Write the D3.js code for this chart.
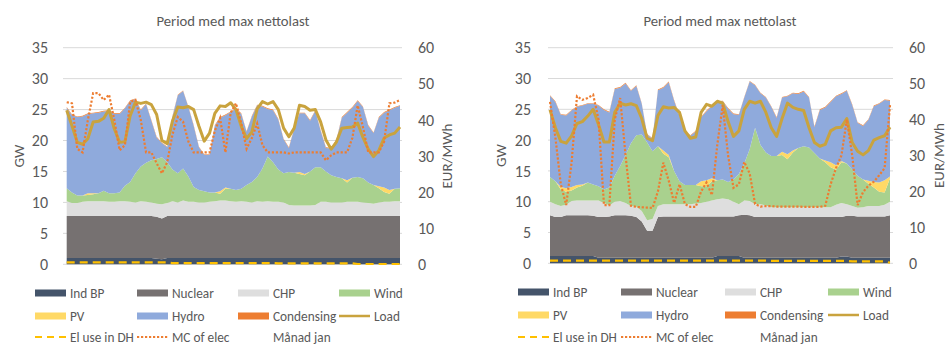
<!DOCTYPE html>
<html>
<head>
<meta charset="utf-8">
<script src="https://cdn.jsdelivr.net/npm/d3@7"></script>
<style>
  html, body { margin: 0; padding: 0; background: #fff; }
  svg { display: block; font-family: Carlito, Calibri, Lato, "Open Sans", sans-serif; }
</style>
</head>
<body>
<svg id="chart" width="948" height="345"></svg>
<script>
// ---- Axis ticks ----
const gwTicks  = [0, 5, 10, 15, 20, 25, 30, 35];
const eurTicks = [0, 10, 20, 30, 40, 50, 60];
const chartTitle = "Period med max nettolast";

// ---- Panel 1: generation (GW), load (GW), price (EUR/MWh) per 3-hour step ----
const p1IndBP = [1.0,1.0,1.0,1.0,1.0,1.0,1.0,1.0,1.0,1.0, 1.0,1.0,1.0,1.0,1.0,1.0,1.0,0.9,0.8,1.0,
  1.0,1.0,1.0,1.0,1.0,1.0,1.0,1.0,1.0,1.0, 1.0,1.0,1.0,1.0,1.0,1.0,1.0,1.0,1.0,1.0,
  1.0,1.0,1.0,1.0,1.0,1.0,1.0,1.0,1.0,1.0, 1.0,1.0,1.0,1.0,1.0,1.0,1.0,1.0,1.0,1.0, 1.0,1.0,1.0,1.0];
const p1Nuclear = [6.8,6.8,6.8,6.8,6.8,6.8,6.8,6.8,6.8,6.8, 6.8,6.8,6.8,6.8,6.8,6.8,6.8,6.8,6.6,6.8,
  6.8,6.8,6.8,6.8,6.8,6.8,6.8,6.8,6.8,6.8, 6.8,6.8,6.8,6.8,6.8,6.8,6.8,6.8,6.8,6.8,
  6.8,6.8,6.8,6.8,6.8,6.8,6.8,6.8,6.8,6.8, 6.8,6.8,6.8,6.8,6.8,6.8,6.8,6.8,6.8,6.8, 6.8,6.8,6.8,6.8];
const p1CHP = [2.4,2.1,2.1,2.3,2.4,2.4,2.4,2.4,2.3,2.3, 2.4,2.4,2.3,2.2,2.4,2.3,2.2,2.1,2.3,2.1,
  2.4,2.2,2.5,2.3,2.3,2.2,2.2,2.3,2.4,2.5, 2.5,2.4,2.3,2.4,2.3,2.2,2.4,2.3,2.4,2.3,
  2.3,2.2,1.8,1.7,1.7,1.7,1.7,1.8,2.3,2.3, 2.2,2.2,2.2,2.3,2.3,2.3,2.2,2.1,2.0,2.2, 2.3,2.3,2.4,2.4];
const p1Wind = [2.1,1.7,1.2,1.0,1.0,1.1,1.3,1.7,1.4,1.4, 1.4,2.5,3.2,4.7,5.6,6.3,6.8,7.2,7.6,6.6,
  5.1,4.7,5.2,4.1,2.4,2.0,1.8,1.5,1.4,1.1, 1.9,2.0,1.9,2.0,2.7,3.3,3.9,5.4,7.2,6.4,
  5.2,4.7,5.3,5.3,5.1,4.9,5.5,6.1,5.6,4.9, 4.4,4.1,3.9,3.1,3.9,4.0,3.9,3.3,3.0,2.3, 1.6,1.3,2.0,2.1];
const p1PV = [0,0,0,0,0.3,0.2,0,0,0,0, 0,0,0,0,0,0,0,0,0,0,
  0,0,0,0,0,0,0,0,0,0.4, 0.2,0,0,0,0,0,0,0,0,0,
  0,0,0,0,0.3,0.2,0,0,0,0, 0,0,0,0.4,0,0,0,0,0,0.3, 0.7,0.6,0,0];
const p1Hydro = [13.0,12.5,12.7,12.8,12.8,12.9,13.0,12.8,13.3,12.8, 12.7,12.5,13.1,12.0,9.1,9.5,6.4,3.5,2.3,2.4,
  8.6,12.6,12.5,11.2,9.9,6.9,5.9,6.1,10.8,11.9, 11.7,12.4,13.1,12.1,8.6,10.6,11.6,10.0,7.7,8.4,
  8.1,5.5,3.9,7.1,9.5,9.8,8.2,9.1,5.9,3.8, 4.3,6.0,9.8,10.9,11.3,12.3,11.5,9.2,8.4,11.1, 12.1,12.9,13.1,13.3];
const p1Condensing = [0.1,0.1,0.1,0.1,0.1,0.1,0.1,0.1,0.1,0.1, 0.1,0.1,0.1,0.1,0.1,0.1,0.1,0.1,0.1,0.1,
  0.1,0.1,0.1,0.1,0.1,0.1,0.1,0.1,0.1,0.1, 0.1,0.1,0.1,0.1,0.1,0.1,0.1,0.1,0.1,0.1,
  0.1,0.1,0.1,0.1,0.1,0.1,0.1,0.1,0.1,0.1, 0.1,0.1,0.1,0.1,0.1,0.1,0.1,0.1,0.1,0.1, 0.1,0.1,0.1,0.1];
const p1Load = [24.9,22.4,19.7,19.4,20.3,23.0,23.1,23.6,25.0,21.9, 19.7,19.8,24.0,26.2,26.0,26.2,25.8,24.2,20.0,19.5,
  23.2,25.4,25.3,25.5,25.0,22.3,19.9,21.2,24.4,25.6, 25.5,26.1,25.0,22.3,20.3,21.4,25.1,26.3,25.9,26.3,
  25.0,22.0,20.6,22.0,25.7,25.5,24.9,25.0,23.0,20.1, 18.6,19.8,22.0,22.1,22.2,22.8,20.5,18.6,17.4,18.4, 20.4,20.9,21.2,22.2];
const p1ElDH = [0.3,0.3,0.3,0.3,0.3,0.3,0.3,0.3,0.3,0.3, 0.3,0.3,0.3,0.3,0.3,0.3,0.3,0.3,0.3,0.3,
  0.2,0.2,0.2,0.2,0.2,0.2,0.2,0.2,0.2,0.2, 0.2,0.2,0.2,0.2,0.2,0.2,0.2,0.2,0.2,0.2,
  0.15,0.15,0.15,0.15,0.15,0.15,0.15,0.15,0.15,0.15, 0.15,0.15,0.15,0.15,0.15,0.05,0.05,0.05,0.05,0.05, 0.05,0.05,0.05,0.05];
const p1MC = [44.9,44.6,32.0,31.0,40.0,47.4,47.4,45.5,47.0,40.0, 31.6,33.0,45.0,45.5,40.0,31.0,31.0,28.0,25.2,28.3,
  36.0,40.8,39.5,34.0,31.0,31.0,31.0,31.0,37.0,40.5, 31.0,42.0,44.6,39.0,32.0,35.0,39.0,33.0,31.0,31.0,
  31.0,31.0,30.7,31.0,31.0,31.0,31.0,31.0,31.0,28.8, 30.2,31.0,31.0,31.0,35.0,44.0,38.0,31.0,31.0,31.0, 34.0,44.6,44.8,45.5];

// ---- Panel 2 ----
const p2IndBP = [1.2,1.2,1.2,1.2,1.2,1.2,1.2,1.2,1.2,0.9, 0.9,0.9,0.9,0.9,0.9,0.9,0.9,0.9,0.9,0.9,
  0.9,0.9,0.9,0.9,0.9,0.9,0.9,0.9,0.9,0.9, 0.9,1.2,1.2,1.2,1.2,1.2,0.9,0.9,0.9,0.9,
  0.9,0.9,0.9,0.9,0.9,0.9,0.9,0.9,0.9,0.9, 0.9,0.9,0.9,0.9,1.1,1.1,0.9,0.9,0.9,0.9, 0.9,0.9,0.9,0.9];
const p2Nuclear = [6.6,6.3,6.3,6.6,6.6,6.6,6.6,6.6,6.5,6.6, 6.6,6.7,6.9,6.9,6.9,6.8,6.6,5.9,4.4,4.4,
  6.6,6.7,6.7,6.7,6.7,6.7,6.7,6.7,6.7,6.7, 6.7,6.4,6.4,6.4,6.4,6.6,7.0,6.9,6.6,6.6,
  6.6,6.6,6.6,6.6,6.6,6.6,6.6,6.6,6.6,6.6, 6.6,6.6,6.6,6.6,6.4,6.6,6.8,6.7,6.7,6.7, 6.7,6.7,6.7,6.9];
const p2CHP = [2.2,2.1,1.8,1.7,2.3,2.4,2.4,2.4,2.5,2.7, 2.3,1.8,2.2,2.3,2.0,1.6,1.7,1.7,1.7,1.9,
  1.8,2.0,2.0,2.0,2.0,2.0,2.0,2.1,2.2,2.4, 2.6,2.8,2.9,2.8,2.4,1.8,2.3,2.3,2.1,2.1,
  1.9,1.6,1.6,1.6,1.6,1.6,1.6,1.6,1.6,1.6, 1.6,1.6,1.6,2.0,2.3,1.9,1.6,1.4,1.5,1.7, 1.7,1.7,1.9,2.2];
const p2Wind = [4.0,3.7,2.7,2.1,1.7,2.1,2.4,2.9,2.6,2.3, 2.2,2.9,4.2,5.7,7.8,10.2,11.6,12.4,12.6,11.0,
  9.7,8.2,7.6,5.4,3.7,3.1,3.1,3.0,2.7,2.5, 3.1,3.1,3.1,2.8,3.6,4.9,6.0,8.4,12.4,9.6,
  8.6,8.3,8.3,8.5,7.8,8.9,9.6,9.9,9.7,8.8, 7.9,7.3,6.5,5.7,6.6,6.6,5.9,5.2,4.5,3.6, 3.0,2.3,2.0,3.8];
const p2PV = [0,0,0.4,0.6,0.6,0.4,0.2,0,0,0, 0,0,0,0,0,0,0,0,0,0,
  0,0.5,0.4,0,0,0,0,0,0.8,1.0, 0.5,0,0,0,0,0,0,0,0,0,
  0,0,0,0.5,0.8,0.3,0,0,0,0, 0,0.3,0.8,0.7,0.2,0,0,0,0,0.5, 0.9,1.5,2.0,0.3];
const p2Hydro = [13.2,12.9,11.7,11.8,12.4,12.7,12.8,12.8,13.1,13.1, 12.9,12.2,14.1,12.7,11.6,8.5,8.0,5.0,1.3,2.0,
  9.1,10.2,11.8,11.4,10.6,8.7,8.0,8.7,10.4,11.2, 11.7,12.7,12.7,11.9,10.6,9.6,10.7,11.0,6.9,8.4,
  8.9,8.0,6.2,8.8,9.4,9.3,8.8,8.9,8.1,4.2, 7.9,8.6,9.8,11.2,10.9,11.8,10.5,8.6,8.7,9.9, 12.3,12.8,13.0,12.3];
const p2Condensing = [0.1,0.1,0.1,0.1,0.1,0.1,0.1,0.1,0.1,0.1, 0.1,0.1,0.1,0.1,0.1,0.1,0.1,0.1,0.1,0.1,
  0.1,0.1,0.1,0.1,0.1,0.1,0.1,0.1,0.1,0.1, 0.1,0.1,0.1,0.1,0.1,0.1,0.1,0.1,0.1,0.1,
  0.1,0.1,0.1,0.1,0.1,0.1,0.1,0.1,0.1,0.1, 0.1,0.1,0.1,0.1,0.1,0.1,0.1,0.1,0.1,0.1, 0.1,0.1,0.1,0.1];
const p2Load = [24.9,22.0,19.8,19.5,20.7,22.7,23.0,23.9,25.0,22.5, 19.7,19.7,24.5,26.0,25.7,25.9,25.6,23.5,20.3,19.9,
  24.0,25.4,25.2,25.3,24.5,21.5,20.3,20.5,24.5,25.8, 25.5,26.3,26.0,23.0,20.6,21.5,25.0,26.3,26.0,26.3,
  24.5,22.0,20.6,23.5,26.0,25.3,25.0,24.8,22.0,19.6, 19.0,19.3,21.5,22.0,22.1,23.5,19.6,18.2,17.6,18.3, 20.0,20.4,20.7,22.1];
const p2ElDH = [0.45,0.45,0.45,0.45,0.45,0.45,0.45,0.45,0.45,0.45, 0.45,0.45,0.45,0.45,0.45,0.45,0.45,0.45,0.45,0.45,
  0.45,0.45,0.45,0.45,0.45,0.45,0.45,0.45,0.45,0.45, 0.45,0.45,0.45,0.45,0.45,0.45,0.45,0.45,0.45,0.45,
  0.45,0.4,0.4,0.4,0.4,0.4,0.4,0.4,0.4,0.4, 0.4,0.4,0.4,0.4,0.4,0.4,0.3,0.3,0.3,0.3, 0.3,0.3,0.3,0.1];
const p2MC = [44.9,35.0,22.0,16.2,28.0,46.5,45.5,46.0,46.9,40.0, 16.2,16.2,40.0,46.0,30.0,16.0,15.7,15.6,15.5,15.4,
  20.0,28.0,23.0,16.8,22.0,16.5,15.7,15.7,20.0,22.5, 19.0,33.0,44.0,30.0,21.0,22.0,28.2,25.0,16.5,15.8,
  15.9,15.9,15.8,15.8,15.8,15.8,15.8,15.7,15.7,15.7, 15.7,16.0,22.0,26.5,30.0,40.0,30.0,16.2,19.8,21.6, 22.7,24.5,26.5,44.0];

// ---- Series styling ----
const areaSeries = [
  { key: "indBP",      label: "Ind BP",     color: "#44546a" },
  { key: "nuclear",    label: "Nuclear",    color: "#767171" },
  { key: "chp",        label: "CHP",        color: "#dedede" },
  { key: "wind",       label: "Wind",       color: "#a9d18e" },
  { key: "pv",         label: "PV",         color: "#ffd966" },
  { key: "hydro",      label: "Hydro",      color: "#8faadc" },
  { key: "condensing", label: "Condensing", color: "#ed7d31" }
];
const loadColor = "#c9a33e";
const elDHColor = "#ffc000";
const mcColor   = "#ed7d31";
const textColor = "#595959";
const gridColor = "#d9d9d9";

const panels = [
  { data: { indBP: p1IndBP, nuclear: p1Nuclear, chp: p1CHP, wind: p1Wind, pv: p1PV, hydro: p1Hydro, condensing: p1Condensing },
    load: p1Load, elDH: p1ElDH, mc: p1MC,
    x0: 66.7, x1: 400, yTop: 47.7, yBot: 264.3, gx0: 63, gx1: 402,
    leftLabel: 48, rightLabel: 418, gwX: 19, eurX: 447, titleX: 233,
    legendX: [35, 137, 238, 339], legendY: [293, 316, 337] },
  { data: { indBP: p2IndBP, nuclear: p2Nuclear, chp: p2CHP, wind: p2Wind, pv: p2PV, hydro: p2Hydro, condensing: p2Condensing },
    load: p2Load, elDH: p2ElDH, mc: p2MC,
    x0: 550, x1: 890, yTop: 47.7, yBot: 263.3, gx0: 548, gx1: 893,
    leftLabel: 531, rightLabel: 909, gwX: 501, eurX: 939, titleX: 720,
    legendX: [518, 621, 725, 828], legendY: [292, 315, 337] }
];

const svg = d3.select("#chart");

function drawPanel(p) {
  const g = svg.append("g");
  const n = p.load.length;
  const x = d3.scaleLinear().domain([0, n - 1]).range([p.x0, p.x1]);
  const y = d3.scaleLinear().domain([0, 35]).range([p.yBot, p.yTop]);
  const y2 = d3.scaleLinear().domain([0, 60]).range([p.yBot, p.yTop]);

  // gridlines
  g.append("g").selectAll("line").data(gwTicks).join("line")
    .attr("x1", p.gx0).attr("x2", p.gx1)
    .attr("y1", d => y(d)).attr("y2", d => y(d))
    .attr("stroke", gridColor).attr("stroke-width", 1);

  // stacked generation areas
  const rows = d3.range(n).map(i => {
    const r = {};
    areaSeries.forEach(s => { r[s.key] = p.data[s.key][i]; });
    return r;
  });
  const stacked = d3.stack().keys(areaSeries.map(s => s.key))(rows);
  const area = d3.area()
    .x((d, i) => x(i))
    .y0(d => y(d[0]))
    .y1(d => y(d[1]));
  g.append("g").selectAll("path").data(stacked).join("path")
    .attr("d", area)
    .attr("fill", (d, i) => areaSeries[i].color);

  // load (GW)
  const lineGW = d3.line().x((d, i) => x(i)).y(d => y(d));
  g.append("path").attr("d", lineGW(p.load))
    .attr("fill", "none").attr("stroke", loadColor)
    .attr("stroke-width", 3).attr("stroke-linejoin", "round");

  // electricity use in district heating (GW)
  g.append("path").attr("d", lineGW(p.elDH))
    .attr("fill", "none").attr("stroke", elDHColor)
    .attr("stroke-width", 2.2).attr("stroke-dasharray", "8 5");

  // marginal cost of electricity (EUR/MWh)
  const lineEUR = d3.line().x((d, i) => x(i)).y(d => y2(d));
  g.append("path").attr("d", lineEUR(p.mc))
    .attr("fill", "none").attr("stroke", mcColor)
    .attr("stroke-width", 2.2).attr("stroke-dasharray", "2.2 1.8");

  // axes
  const axL = g.append("g").attr("transform", `translate(${p.leftLabel},0)`)
    .call(d3.axisLeft(y).tickValues(gwTicks).tickSize(0).tickPadding(0));
  const axR = g.append("g").attr("transform", `translate(${p.rightLabel},0)`)
    .call(d3.axisRight(y2).tickValues(eurTicks).tickSize(0).tickPadding(0));
  [axL, axR].forEach(ax => {
    ax.select(".domain").remove();
    ax.selectAll("text").attr("fill", textColor)
      .style("font-size", "16px").style("font-family", null);
    ax.attr("font-family", null);
  });

  // axis titles
  const midY = (p.yTop + p.yBot) / 2;
  g.append("text").text("GW")
    .attr("transform", `translate(${p.gwX},${midY}) rotate(-90)`)
    .attr("text-anchor", "middle").attr("dy", "0.35em")
    .attr("fill", textColor).style("font-size", "15px");
  g.append("text").text("EUR/MWh")
    .attr("transform", `translate(${p.eurX},${midY}) rotate(-90)`)
    .attr("text-anchor", "middle").attr("dy", "0.35em")
    .attr("fill", textColor).style("font-size", "15px");

  // title
  g.append("text").text(chartTitle)
    .attr("x", p.titleX).attr("y", 26)
    .attr("text-anchor", "middle")
    .attr("fill", textColor).style("font-size", "14.7px");

  // legend: four columns, three rows
  const layout = [
    ...areaSeries.map(s => ({ label: s.label, type: "rect", color: s.color })),
    { label: "Load", type: "line", color: loadColor },
    { label: "El use in DH", type: "dash", color: elDHColor },
    { label: "MC of elec", type: "dot", color: mcColor },
    { label: "Månad jan", type: "none", color: "none" }
  ];
  const lg = g.append("g");
  layout.forEach((it, k) => {
    const cx = p.legendX[k % 4];
    const cy = p.legendY[Math.floor(k / 4)];
    if (it.type === "rect") {
      lg.append("rect").attr("x", cx).attr("y", cy - 3.5).attr("width", 31).attr("height", 7)
        .attr("fill", it.color);
    } else if (it.type !== "none") {
      lg.append("line").attr("x1", cx).attr("x2", cx + 31).attr("y1", cy).attr("y2", cy)
        .attr("stroke", it.color)
        .attr("stroke-width", it.type === "line" ? 2.5 : 2.2)
        .attr("stroke-dasharray", it.type === "dash" ? "7 5" : it.type === "dot" ? "2.2 1.8" : null);
    }
    lg.append("text").text(it.label)
      .attr("x", cx + 35).attr("y", cy).attr("dy", "0.35em")
      .attr("fill", textColor).style("font-size", "13.3px");
  });
}

panels.forEach(drawPanel);
</script>
</body>
</html>
